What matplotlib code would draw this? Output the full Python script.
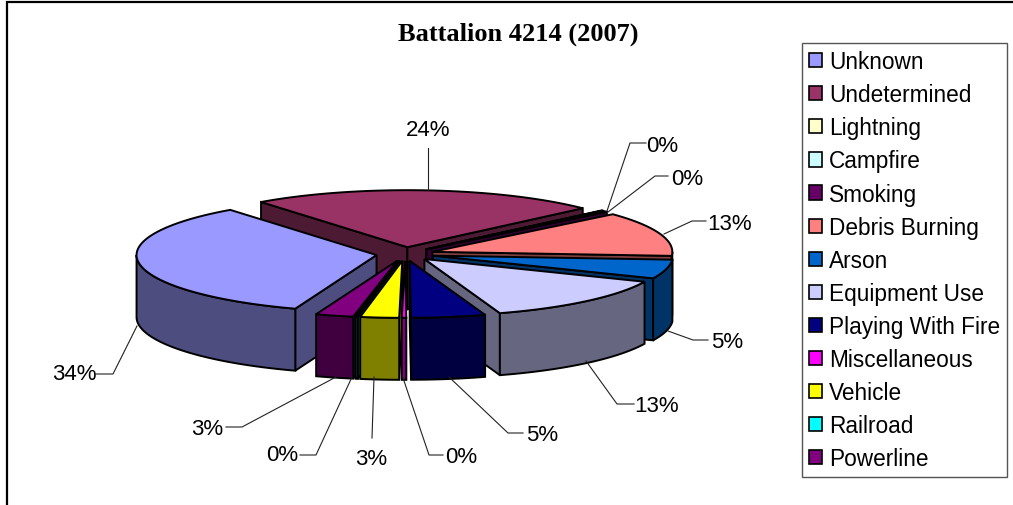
#!/usr/bin/env python3
# -*- coding: utf-8 -*-
import numpy as np
import matplotlib
matplotlib.use("Agg")
import matplotlib.pyplot as plt
from matplotlib.patches import Polygon, Patch

# Dati
categories = ['Unknown', 'Undetermined', 'Lightning', 'Campfire', 'Smoking', 'Debris Burning',
              'Arson', 'Equipment Use', 'Playing With Fire', 'Miscellaneous', 'Vehicle',
              'Railroad', 'Powerline']
values = [34.1, 23.5, 0.1, 0.0, 0.4, 12.6, 5.4, 13.4, 5.0, 0.3, 2.6, 0.15, 2.55]
colors = ['#9999FF', '#993366', '#FFFFCC', '#CCFFFF', '#660066', '#FF8080', '#0066CC',
          '#CCCCFF', '#000080', '#FF00FF', '#FFFF00', '#00FFFF', '#800080']
title = 'Battalion 4214 (2007)'

# Geometria della torta
START_ANGLE = 199.8
CENTER = (405, 255)
RX, RY = 240, 57
DEPTH = 62
EXPLODE = 0.12

# Posizione etichette: testo, poi la linea guida
label_pos = {
    'Unknown': ((74, 375), [(96, 375), (113, 375), (137, 327)]),
    'Undetermined': ((428, 130), [(428, 149), (428, 191)]),
    'Lightning': ((662, 146), [(646, 144), (630, 144), (607, 212)]),
    'Smoking': ((687, 179), [(668, 177), (655, 177), (608, 213)]),
    'Debris Burning': ((730, 224), [(706, 222), (692, 222), (664, 235)]),
    'Arson': ((727, 342), [(708, 341), (693, 341), (668, 332)]),
    'Equipment Use': ((657, 407), [(634, 405), (617, 405), (586, 362)]),
    'Playing With Fire': ((542, 436), [(523, 434), (508, 434), (449, 378)]),
    'Miscellaneous': ((461, 458), [(443, 456), (429, 456), (402, 376)]),
    'Vehicle': ((371, 460), [(372, 439), (374, 378)]),
    'Railroad': ((282, 456), [(300, 456), (316, 456), (352, 378)]),
    'Powerline': ((207, 430), [(226, 428), (242, 428), (336, 378)]),
}

FONT = 'Liberation Sans'


def darken(color):
    r, g, b = matplotlib.colors.to_rgb(color)
    return (r * 0.5, g * 0.5, b * 0.5)


def ring(theta, cx, cy, drop=0):
    t = np.radians(theta)
    return np.column_stack([cx + RX * np.sin(t), cy - RY * np.cos(t) + drop])


def draw_slice(ax, t0, t1, color):
    # Le fette dopo il giro completo tornano tra 0 e 360
    if t0 >= 360:
        t0, t1 = t0 - 360, t1 - 360
    mid = np.radians((t0 + t1) / 2)
    cx = CENTER[0] + EXPLODE * RX * np.sin(mid)
    cy = CENTER[1] - EXPLODE * RY * np.cos(mid)
    side = darken(color)
    style = dict(edgecolor='black', linewidth=1.4, joinstyle='miter')

    # Pareti radiali rivolte verso chi guarda
    for theta, visible in ((t0, np.sin(np.radians(t0)) < 0), (t1, np.sin(np.radians(t1)) > 0)):
        if visible:
            top = ring(np.array([theta]), cx, cy)[0]
            wall = [(cx, cy), top, top + (0, DEPTH), (cx, cy + DEPTH)]
            ax.add_patch(Polygon(wall, closed=True, facecolor=side, **style))

    # Parete esterna, solo la meta anteriore
    lo, hi = max(t0, 90), min(t1, 270)
    if hi > lo:
        arc = np.linspace(lo, hi, 80)
        wall = np.vstack([ring(arc, cx, cy), ring(arc[::-1], cx, cy, DEPTH)])
        ax.add_patch(Polygon(wall, closed=True, facecolor=side, **style))

    # Faccia superiore
    arc = np.linspace(t0, t1, 120)
    face = np.vstack([[(cx, cy)], ring(arc, cx, cy)])
    ax.add_patch(Polygon(face, closed=True, facecolor=color, **style))


def main():
    fig = plt.figure(figsize=(10.13, 5.06), dpi=100)
    ax = fig.add_axes([0, 0, 1, 1])
    ax.set_xlim(0, 1013)
    ax.set_ylim(506, 0)
    ax.axis('off')

    # Cornice del grafico
    ax.plot([7, 7, 1013], [506, 3, 3], color='black', linewidth=1.6, solid_joinstyle='miter')

    # Angoli in senso orario a partire dall'alto
    shares = np.array(values) / sum(values) * 360
    edges = START_ANGLE + np.concatenate([[0], np.cumsum(shares)])
    slices = [(edges[i], edges[i + 1], colors[i]) for i in range(len(values)) if values[i] > 0]

    # Prima le fette dietro, poi quelle davanti
    slices.sort(key=lambda s: -np.cos(np.radians((s[0] + s[1]) / 2)))
    for t0, t1, color in slices:
        draw_slice(ax, t0, t1, color)

    for name, value in zip(categories, values):
        if name not in label_pos:
            continue
        (tx, ty), leader = label_pos[name]
        xs, ys = zip(*leader)
        ax.plot(xs, ys, color='#222222', linewidth=0.8)
        ax.text(tx, ty, f"{value:.0f}%", ha='center', va='center', fontsize=16, family=FONT, color='black')

    ax.text(518, 34, title, ha='center', va='center', fontsize=19, fontweight='bold',
            family='Liberation Serif', color='black')

    handles = [Patch(facecolor=c, edgecolor='black', linewidth=1.2) for c in colors]
    legend = ax.legend(handles, categories, loc='upper left', bbox_to_anchor=(802, 44),
                       bbox_transform=ax.transData, borderaxespad=0, fancybox=False,
                       framealpha=1, edgecolor='#555555', borderpad=0.32, handlelength=0.585,
                       handleheight=0.585, handletextpad=0.28, labelspacing=0.445,
                       prop={'family': FONT, 'size': 16.3})
    legend.get_frame().set_linewidth(1.0)

    fig.savefig('out.png', dpi=100)


if __name__ == "__main__":
    main()
